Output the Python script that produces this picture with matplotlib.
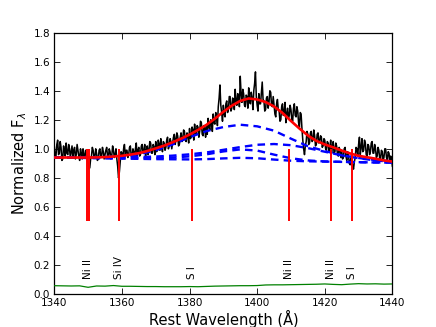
import numpy as np
import matplotlib
matplotlib.use("Agg")
import matplotlib.pyplot as plt

spec_start, spec_step = 1340.0, 0.25
spec_flux = [
    1.02, 0.94, 0.95, 1.03, 1.06, 0.96, 0.97, 1.05, 1.01, 0.92, 0.93, 1.02, 0.99, 0.95, 1.04, 0.97, 0.96, 1.03, 1.00, 0.94,
    0.98, 1.02, 0.94, 0.99, 1.01, 0.93, 0.96, 1.03, 0.99, 0.95, 0.92, 1.00, 0.97, 0.93, 1.00, 0.95, 0.94, 0.99, 0.96, 0.93,
    0.90, 0.86, 0.87, 0.93, 0.95, 1.01, 0.99, 0.94, 0.94, 1.00, 0.97, 0.92, 0.93, 0.99, 1.00, 0.94, 0.95, 1.01, 0.98, 0.93,
    0.96, 0.99, 1.01, 0.95, 0.94, 1.00, 0.98, 0.93, 0.95, 1.02, 0.99, 0.94, 0.96, 1.00, 0.93, 0.88, 0.80, 0.84, 0.91, 0.98,
    0.97, 0.93, 1.00, 1.03, 0.95, 0.99, 0.99, 0.94, 0.96, 1.01, 1.02, 0.95, 0.94, 1.00, 0.98, 0.93, 1.00, 1.04, 0.95, 0.99,
    1.01, 0.95, 0.96, 1.02, 1.03, 0.97, 0.98, 1.03, 0.95, 0.99, 1.02, 0.96, 0.99, 1.05, 1.04, 0.97, 0.97, 1.03, 1.01, 0.96,
    1.05, 0.98, 0.99, 1.06, 1.03, 0.99, 1.07, 1.01, 0.98, 1.05, 1.04, 0.99, 1.01, 1.06, 1.08, 1.00, 1.02, 1.07, 1.05, 1.00,
    1.04, 1.08, 1.10, 1.03, 1.06, 1.11, 1.09, 1.02, 1.03, 1.08, 1.11, 1.05, 1.07, 1.13, 1.12, 1.06, 1.05, 1.11, 1.09, 1.04,
    1.14, 1.07, 1.08, 1.15, 1.13, 1.06, 1.17, 1.11, 1.10, 1.16, 1.15, 1.08, 1.12, 1.19, 1.18, 1.10, 1.09, 1.16, 1.14, 1.08,
    1.16, 1.10, 1.21, 1.15, 1.13, 1.20, 1.19, 1.12, 1.24, 1.18, 1.17, 1.25, 1.22, 1.16, 1.29, 1.35, 1.44, 1.30, 1.25, 1.19,
    1.30, 1.24, 1.22, 1.31, 1.33, 1.25, 1.27, 1.36, 1.36, 1.26, 1.28, 1.35, 1.34, 1.27, 1.41, 1.33, 1.30, 1.38, 1.37, 1.29,
    1.50, 1.38, 1.32, 1.41, 1.38, 1.30, 1.29, 1.37, 1.36, 1.28, 1.42, 1.33, 1.31, 1.39, 1.35, 1.27, 1.40, 1.45, 1.53, 1.36,
    1.30, 1.26, 1.38, 1.31, 1.31, 1.39, 1.46, 1.34, 1.33, 1.26, 1.27, 1.35, 1.36, 1.28, 1.32, 1.40, 1.39, 1.30, 1.29, 1.36,
    1.30, 1.24, 1.22, 1.31, 1.34, 1.27, 1.26, 1.19, 1.20, 1.29, 1.31, 1.23, 1.25, 1.32, 1.18, 1.24, 1.28, 1.21, 1.23, 1.30,
    1.27, 1.20, 1.19, 1.28, 1.31, 1.23, 1.22, 1.29, 1.26, 1.18, 1.15, 1.25, 1.24, 1.14, 1.06, 1.00, 0.96, 1.02, 1.05, 1.12,
    1.10, 1.03, 1.04, 1.11, 1.12, 1.05, 1.06, 1.13, 1.09, 1.02, 1.03, 1.10, 1.11, 1.04, 1.05, 1.09, 1.08, 1.01, 1.02, 1.07,
    1.06, 1.00, 0.99, 1.05, 1.04, 0.98, 1.01, 1.06, 0.97, 1.02, 1.05, 0.97, 0.98, 1.04, 1.02, 0.96, 0.95, 1.01, 0.99, 0.94,
    0.99, 0.93, 0.94, 1.00, 1.01, 0.95, 0.92, 0.98, 0.96, 0.90, 0.89, 0.95, 0.93, 0.88, 0.86, 0.91, 0.94, 1.01, 1.00, 0.95,
    1.03, 1.08, 0.96, 1.01, 1.07, 0.98, 0.99, 1.06, 1.04, 0.96, 0.95, 1.03, 1.02, 0.96, 0.98, 1.04, 1.05, 0.97, 0.97, 1.03,
    1.00, 0.94, 0.95, 1.01, 0.99, 0.93, 0.93, 0.99, 0.98, 0.92, 0.94, 1.00, 1.00, 0.94, 0.92, 0.98, 0.97, 0.91, 0.95, 0.93,
    0.88,
]

# ---- total fit (red), 2.5 A sampling ----
fit_start, fit_step = 1340.0, 2.5
fit_flux = [
    0.940, 0.940, 0.940, 0.940, 0.940, 0.941, 0.943, 0.947, 0.952, 0.960,
    0.970, 0.985, 1.003, 1.022, 1.045, 1.070, 1.098, 1.130, 1.165, 1.208,
    1.255, 1.297, 1.330, 1.347, 1.340, 1.322, 1.292, 1.247, 1.192, 1.140,
    1.092, 1.055, 1.030, 1.010, 0.988, 0.968, 0.952, 0.942, 0.932, 0.920,
    0.912,
]

# ---- fit components (blue dashed), 5 A sampling ----
comp_start, comp_step = 1340.0, 5.0
comp_a = [0.942, 0.942, 0.942, 0.944, 0.948, 0.962, 0.990, 1.030, 1.080, 1.122,
          1.150, 1.166, 1.155, 1.125, 1.070, 1.018, 0.985, 0.955, 0.935, 0.920, 0.910]
comp_b = [0.942, 0.941, 0.940, 0.940, 0.941, 0.943, 0.947, 0.953, 0.962, 0.975,
          0.993, 1.012, 1.028, 1.033, 1.025, 1.005, 0.980, 0.955, 0.937, 0.922, 0.914]
comp_c = [0.940, 0.939, 0.937, 0.936, 0.935, 0.935, 0.936, 0.940, 0.948, 0.962,
          0.982, 0.996, 0.988, 0.960, 0.935, 0.920, 0.913, 0.910, 0.908, 0.906, 0.905]
comp_d = [0.940, 0.939, 0.937, 0.935, 0.933, 0.931, 0.929, 0.928, 0.927, 0.929,
          0.934, 0.938, 0.935, 0.926, 0.918, 0.914, 0.912, 0.910, 0.908, 0.906, 0.905]

# ---- error spectrum (green), 2.5 A sampling ----
err_flux = [0.057, 0.056, 0.055, 0.056, 0.046, 0.055, 0.054, 0.058, 0.053, 0.053,
            0.052, 0.051, 0.051, 0.050, 0.050, 0.050, 0.051, 0.050, 0.052, 0.054,
            0.055, 0.056, 0.057, 0.057, 0.058, 0.062, 0.063, 0.063, 0.064, 0.065,
            0.066, 0.067, 0.069, 0.066, 0.064, 0.068, 0.071, 0.069, 0.070, 0.068,
            0.069]

# ---- absorption line markers ----
line_waves = [1349.7, 1350.2, 1359.1, 1380.7, 1409.5, 1421.9, 1428.0]
label_waves = [1350.0, 1359.0, 1380.7, 1409.5, 1421.9, 1428.0]
label_names = ["Ni II", "Si IV", "S I", "Ni II", "Ni II", "S I"]
marker_lo, marker_hi = 0.5, 1.0

plt.rcParams['font.family'] = ['DejaVu Sans']
fig = plt.figure(figsize=(4.36, 3.27), dpi=100)
ax = fig.add_axes([0.1245, 0.101, 0.7755, 0.799])

ws = spec_start + spec_step * np.arange(len(spec_flux))
wf = fit_start + fit_step * np.arange(len(fit_flux))
wc = comp_start + comp_step * np.arange(len(comp_a))

ax.plot(ws, spec_flux, color='black', lw=1.1, zorder=2)
for comp in (comp_a, comp_b, comp_c, comp_d):
    ax.plot(wc, comp, color='#0000ff', lw=1.7, dashes=(3.2, 2.2), zorder=3)
ax.plot(wf, fit_flux, color='#ff0000', lw=1.9, zorder=4)
ax.plot(wf, err_flux, color='green', lw=0.9, zorder=3)
ax.vlines(line_waves, marker_lo, marker_hi, color='#ff0000', lw=1.4, zorder=5)
for w, name in zip(label_waves, label_names):
    ax.text(w, 0.1, name, rotation=90, ha='center', va='bottom', fontsize=7.5)

ax.set_xlim(1340, 1440)
ax.set_ylim(0, 1.8)
ax.set_xticks(np.arange(1340, 1441, 20))
ax.set_yticks(np.arange(0, 1.81, 0.2))
ax.set_yticklabels(["%.1f" % v for v in np.arange(0, 1.81, 0.2)])
ax.tick_params(direction='in', top=True, right=True, length=4, width=0.6,
               labelsize=7.5, pad=3)
for s in ax.spines.values():
    s.set_linewidth(0.9)
ax.set_xlabel("Rest Wavelength (Å)", fontsize=10.5)
ax.set_ylabel(r"Normalized F$_\lambda$", fontsize=10.5)
ax.xaxis.set_label_coords(0.5, -0.061)
ax.yaxis.set_label_coords(-0.076, 0.5)

fig.savefig("out.png", dpi=100)
